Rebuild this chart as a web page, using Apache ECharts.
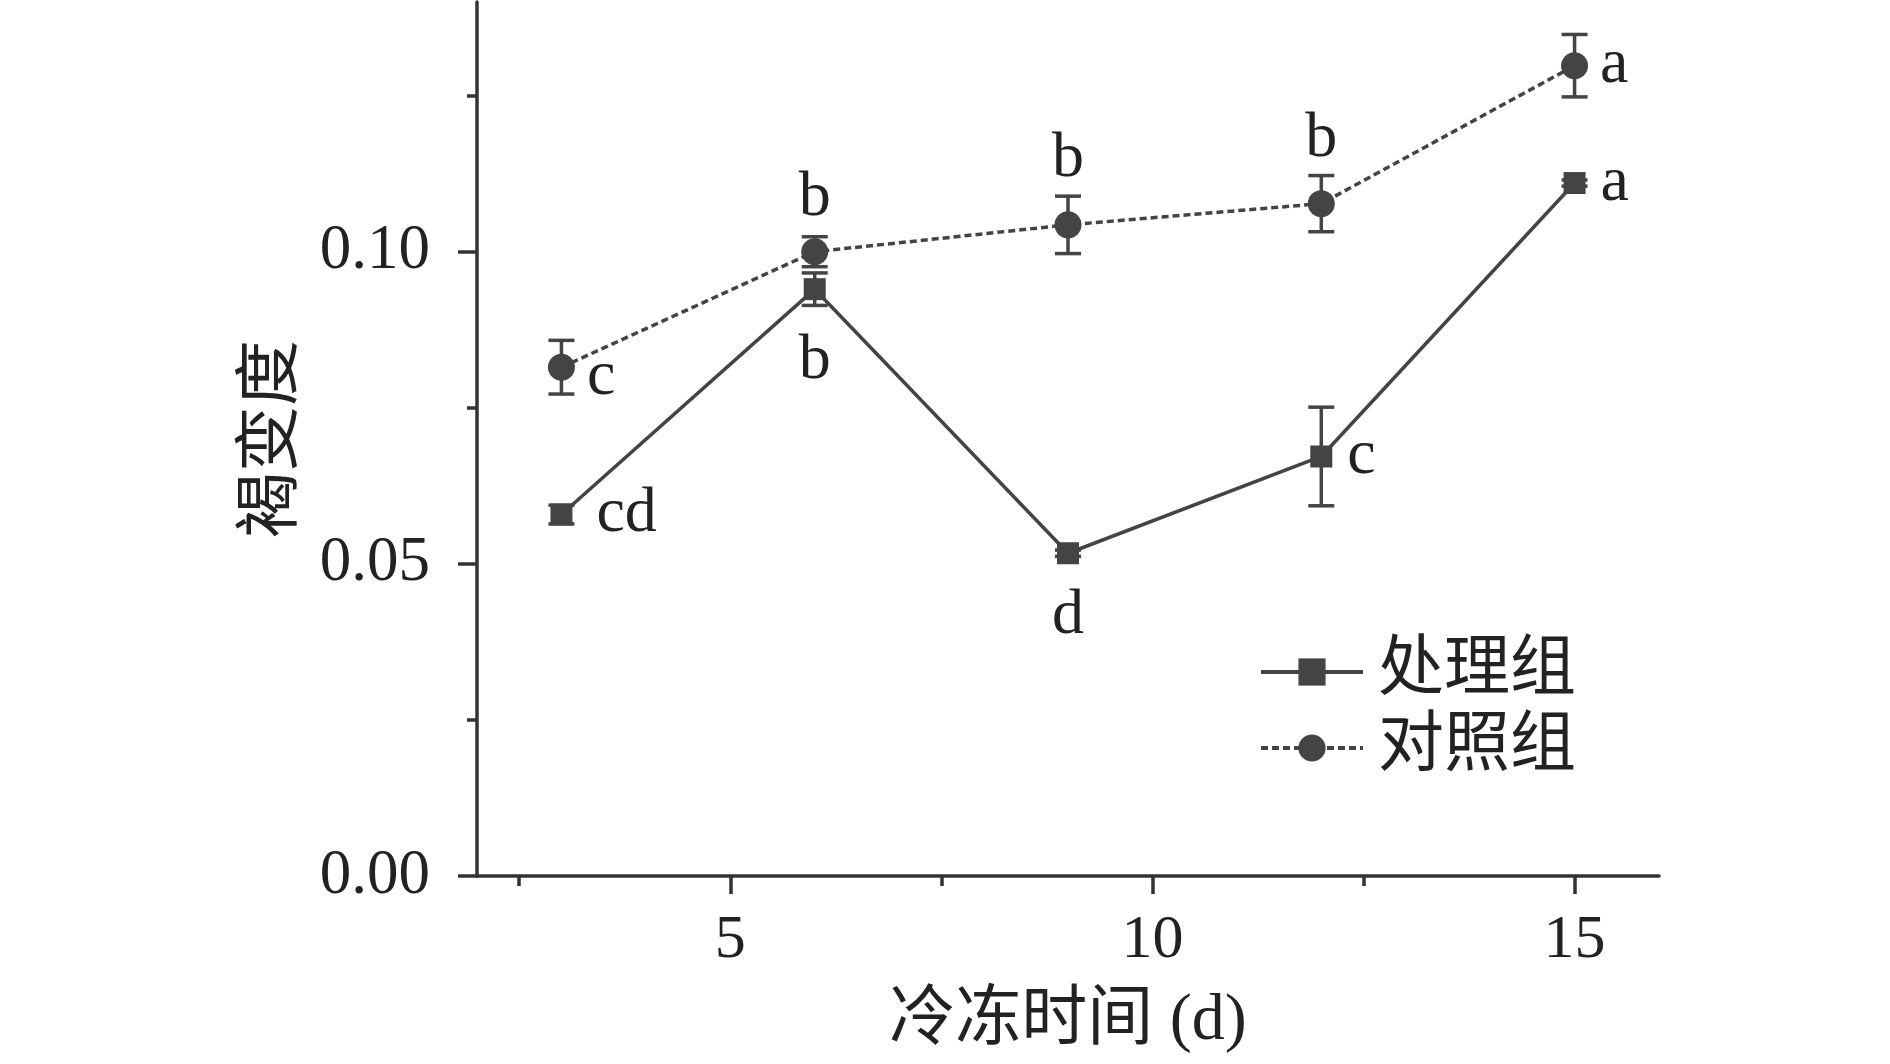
<!DOCTYPE html>
<html><head><meta charset="utf-8">
<script src="https://cdn.jsdelivr.net/npm/echarts@6/dist/echarts.min.js"></script>
<style>html,body{margin:0;padding:0;background:#fff}#c{width:1890px;height:1064px}</style>
</head><body><div id="c"></div>
<script>
const days = [3, 6, 9, 12, 15];
const treatMean = [0.0579, 0.0940, 0.0517, 0.0672, 0.1110];
const treatErr  = [0.0015, 0.0026, 0.0005, 0.0079, 0.0005];
const ctrlMean  = [0.0815, 0.1000, 0.1043, 0.1077, 0.1298];
const ctrlErr   = [0.0043, 0.0024, 0.0046, 0.0045, 0.0050];
const treatLetters = ['cd', 'b', 'd', 'c', 'a'];
const ctrlLetters  = ['c', 'b', 'b', 'b', 'a'];
const xTicks = [5, 10, 15];
const xMinorTicks = [2.5, 7.5, 12.5];
const yTicks = [0, 0.05, 0.10];
const yMinorTicks = [0.025, 0.075, 0.125];

// label layout (style only)
const treatLabelPos  = ['right', 'bottom', 'bottom', 'right', 'right'];
const treatLabelDist = [24, 29, 20, 15, 15];
const treatLabelDy   = [0, 0, 0, 0, 0];
const ctrlLabelPos   = ['right', 'top', 'top', 'top', 'right'];
const ctrlLabelDist  = [12, 8, 20, 19, 12];
const ctrlLabelDy    = [10, 0, 0, 0, 0];

const C = '#444444';
const FONT = "'Liberation Serif', 'Noto Sans CJK SC', serif";

function makeLine(means, letters, posArr, distArr, dyArr) {
  return days.map((d, i) => ({
    value: [d, means[i]],
    label: {show: true, position: posArr[i], distance: distArr[i], offset: [0, dyArr[i]],
      color: '#222', fontFamily: FONT, fontSize: 64, formatter: letters[i]}
  }));
}
function makeErr(means, errs) {
  return days.map((d, i) => [d, means[i] - errs[i], means[i] + errs[i]]);
}
function errRender(params, api) {
  const x = api.value(0);
  const lo = api.coord([x, api.value(1)]);
  const hi = api.coord([x, api.value(2)]);
  const hw = 13;
  const st = {stroke: C, lineWidth: 3.5};
  return {type: 'group', children: [
    {type: 'line', shape: {x1: lo[0], y1: lo[1], x2: hi[0], y2: hi[1]}, style: st},
    {type: 'line', shape: {x1: lo[0] - hw, y1: lo[1], x2: lo[0] + hw, y2: lo[1]}, style: st},
    {type: 'line', shape: {x1: hi[0] - hw, y1: hi[1], x2: hi[0] + hw, y2: hi[1]}, style: st}
  ]};
}

const axisLineStyle = {color: '#333', width: 3.5};
const chart = echarts.init(document.getElementById('c'));
chart.setOption({
  animation: false,
  grid: {left: 477, right: 231, top: 2, bottom: 188, containLabel: false},
  xAxis: [{
    type: 'value', min: 2, max: 16,
    name: '冷冻时间 (d)', nameLocation: 'middle', nameGap: 113,
    nameTextStyle: {fontFamily: FONT, fontSize: 66, color: '#222'},
    axisLine: {show: true, lineStyle: axisLineStyle},
    axisTick: {show: true, length: 18, lineStyle: axisLineStyle, customValues: xTicks},
    axisLabel: {show: true, customValues: xTicks, margin: 34, fontFamily: FONT, fontSize: 62, color: '#222'},
    splitLine: {show: false}
  }, {
    type: 'value', min: 2, max: 16, position: 'bottom',
    axisLine: {show: false},
    axisTick: {show: true, length: 10, lineStyle: axisLineStyle, customValues: xMinorTicks},
    axisLabel: {show: false},
    splitLine: {show: false}
  }],
  yAxis: [{
    type: 'value', min: 0, max: 0.14, position: 'left',
    name: '褐变度', nameLocation: 'middle', nameGap: 170, nameRotate: 90,
    nameTextStyle: {fontFamily: FONT, fontSize: 66, color: '#222'},
    axisLine: {show: true, lineStyle: axisLineStyle},
    axisTick: {show: true, length: 19, lineStyle: axisLineStyle, customValues: yTicks},
    axisLabel: {show: true, customValues: yTicks, margin: 47, fontFamily: FONT, fontSize: 63, color: '#222',
      formatter: v => v.toFixed(2)},
    splitLine: {show: false}
  }, {
    type: 'value', min: 0, max: 0.14, position: 'left', offset: 0,
    axisLine: {show: false},
    axisTick: {show: true, length: 10, lineStyle: axisLineStyle, customValues: yMinorTicks},
    axisLabel: {show: false},
    splitLine: {show: false}
  }],
  legend: {
    orient: 'vertical', left: 1254, top: 634, itemWidth: 102, itemHeight: 34, itemGap: 10,
    lineStyle: {width: 4},
    textStyle: {fontFamily: FONT, fontSize: 66, color: '#222', padding: [0, 0, 0, 10]},
    data: ['处理组', '对照组']
  },
  series: [
    {name: '处理组', type: 'line', data: makeLine(treatMean, treatLetters, treatLabelPos, treatLabelDist, treatLabelDy),
      symbol: 'rect', symbolSize: 22, itemStyle: {color: C}, lineStyle: {color: C, width: 3.5, type: 'solid'}, z: 3},
    {name: '对照组', type: 'line', data: makeLine(ctrlMean, ctrlLetters, ctrlLabelPos, ctrlLabelDist, ctrlLabelDy),
      symbol: 'circle', symbolSize: 27, itemStyle: {color: C}, lineStyle: {color: C, width: 3.5, type: [7, 4]}, z: 3},
    {type: 'custom', renderItem: errRender, data: makeErr(treatMean, treatErr), z: 4, silent: true},
    {type: 'custom', renderItem: errRender, data: makeErr(ctrlMean, ctrlErr), z: 4, silent: true}
  ]
});
</script></body></html>
